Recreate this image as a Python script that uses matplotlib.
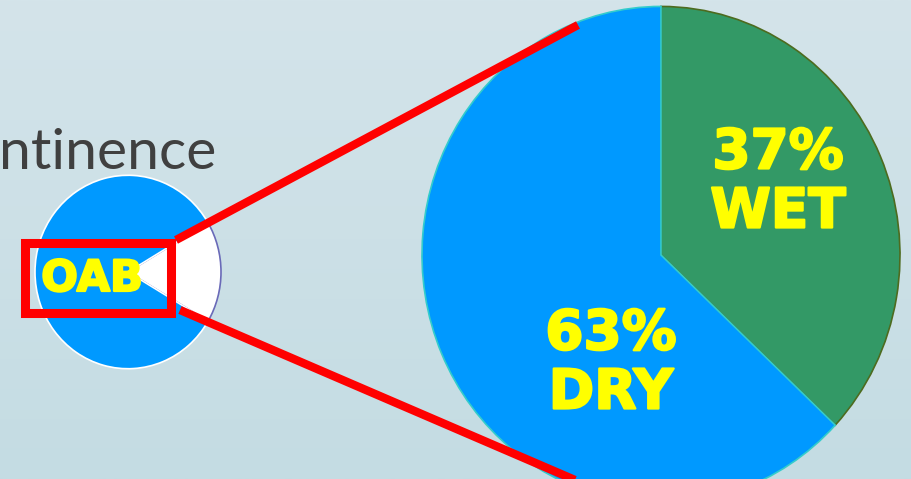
import numpy as np
import matplotlib
matplotlib.use("Agg")
import matplotlib.pyplot as plt
from matplotlib.patches import Rectangle
from matplotlib.colors import LinearSegmentedColormap
import matplotlib.patheffects as pe

# ---- data ----
big_labels = ["WET", "DRY"]
big_values = [37, 63]
small_labels = ["", "OAB"]
small_values = [17, 83]
title_text = "ntinence"

W, H = 912, 479
SY = 1.04  # vertical stretch of the original picture


def Y(img_y):
    """image pixel row -> data y (data units stretched vertically by SY)"""
    return (H - img_y) / SY


fig = plt.figure(figsize=(W / 100, H / 100), dpi=100)
ax = fig.add_axes([0, 0, 1, 1])

# background gradient
grad = np.linspace(0, 1, 256).reshape(-1, 1)
cmap = LinearSegmentedColormap.from_list("bg", ["#d4e4ea", "#c4dce3"])
ax.imshow(grad, cmap=cmap, extent=[0, W, 0, H / SY], aspect="auto", origin="upper", zorder=0)

blue = "#0099ff"
green = "#339966"
yellow = "#ffff00"
red = "#ff0000"

# big pie
bw, _ = ax.pie(big_values, colors=[green, blue], startangle=90, counterclock=False,
               center=(661, Y(255)), radius=239, frame=True,
               wedgeprops=dict(linewidth=1.2))
bw[0].set_edgecolor("#4d6b1f")
bw[1].set_edgecolor("#33cccc")
for w in bw:
    w.set_zorder(2)

# small pie
sw, _ = ax.pie(small_values, colors=["white", blue], startangle=-30.6, counterclock=True,
               center=(128, Y(272)), radius=93, frame=True,
               wedgeprops=dict(linewidth=1.2))
sw[0].set_edgecolor("#6a6ab8")
sw[1].set_edgecolor("white")
for w in sw:
    w.set_zorder(2)

thick = [pe.withStroke(linewidth=1.6, foreground=yellow)]

# labels
ax.text(778, Y(183), f"{big_values[0]}%\n{big_labels[0]}", color=yellow, fontsize=39.5,
        fontweight="bold", family="DejaVu Sans", ha="center", va="center",
        linespacing=1.12, zorder=5, path_effects=thick)
ax.text(611, Y(364), f"{big_values[1]}%\n{big_labels[1]}", color=yellow, fontsize=39.5,
        fontweight="bold", family="DejaVu Sans", ha="center", va="center",
        linespacing=1.12, zorder=5, path_effects=thick)
ax.text(92, Y(279), small_labels[1], color=yellow, fontsize=31, fontweight="bold",
        family="DejaVu Sans", ha="center", va="center", zorder=5, path_effects=thick)

# title fragment
ax.text(-1, Y(169), title_text, color="#404040", fontsize=41, family="Lato",
        fontweight="normal", ha="left", va="baseline", zorder=5)

# zoom box and lines
ax.add_patch(Rectangle((25.5, Y(312.5)), 146, Y(242.5) - Y(312.5), fill=False,
                       edgecolor=red, linewidth=6.5, zorder=6, joinstyle="miter"))
ax.plot([176, 578], [Y(240), Y(25)], color=red, linewidth=6, zorder=6,
        solid_capstyle="butt")
ax.plot([180, 575], [Y(310), Y(480)], color=red, linewidth=6, zorder=6,
        solid_capstyle="butt")

ax.set_xlim(0, W)
ax.set_ylim(0, H / SY)
ax.set_aspect("auto")
ax.axis("off")

fig.savefig("out.png", dpi=100)
